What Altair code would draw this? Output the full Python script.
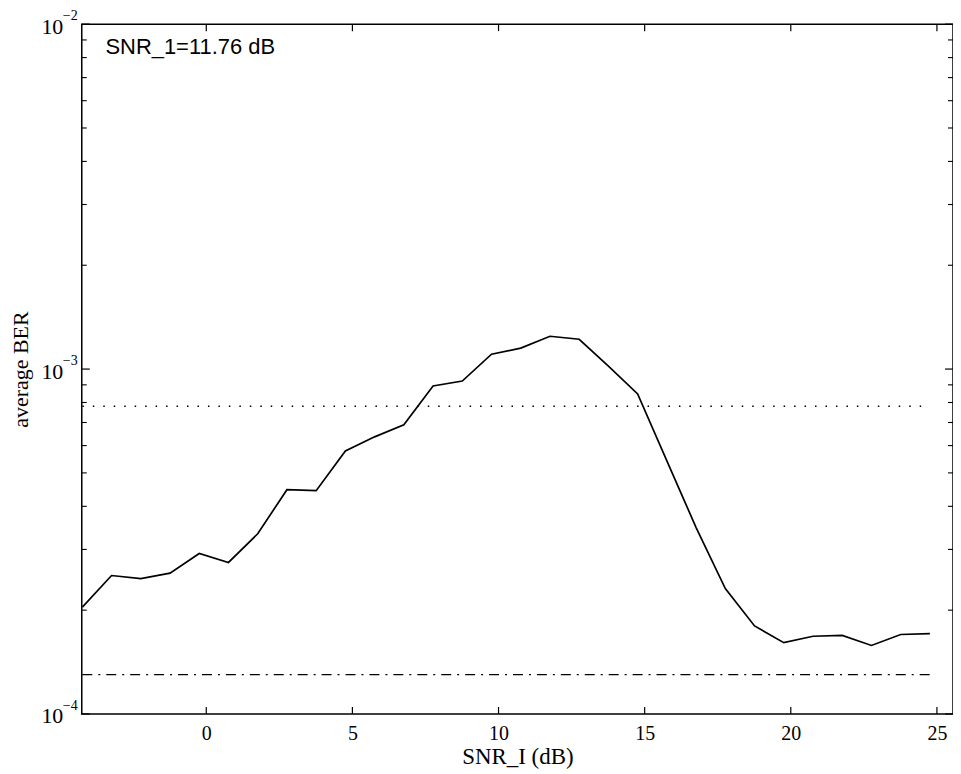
import altair as alt
import pandas as pd

# ---- data ----
snr_db = [-4.24, -3.24, -2.24, -1.24, -0.24, 0.76, 1.76, 2.76, 3.76, 4.76,
          5.76, 6.76, 7.76, 8.76, 9.76, 10.76, 11.76, 12.76, 13.76, 14.76,
          15.76, 16.76, 17.76, 18.76, 19.76, 20.76, 21.76, 22.76, 23.76, 24.76]
avg_ber = [2.04e-4, 2.52e-4, 2.47e-4, 2.56e-4, 2.92e-4, 2.75e-4, 3.33e-4, 4.47e-4,
           4.44e-4, 5.79e-4, 6.36e-4, 6.89e-4, 8.93e-4, 9.23e-4, 1.104e-3, 1.15e-3,
           1.245e-3, 1.22e-3, 1.02e-3, 8.47e-4, 5.42e-4, 3.47e-4, 2.31e-4, 1.80e-4,
           1.61e-4, 1.68e-4, 1.69e-4, 1.58e-4, 1.70e-4, 1.71e-4]
ref_x = [-4.24, 24.76]
dotted_ber = [7.8e-4, 7.8e-4]
dashdot_ber = [1.30e-4, 1.30e-4]

x_ticks = [0, 5, 10, 15, 20, 25]
y_major = [1e-4, 1e-3, 1e-2]
y_exponents = ["\u22124", "\u22123", "\u22122"]
y_minor = [2e-4, 3e-4, 4e-4, 5e-4, 6e-4, 7e-4, 8e-4, 9e-4,
           2e-3, 3e-3, 4e-3, 5e-3, 6e-3, 7e-3, 8e-3, 9e-3]
annotation = "SNR_1=11.76 dB"
annot_x = [-3.45]
annot_y = [8.6e-3]

W, H = 874, 692
XDOM = [-4.26, 25.55]
YDOM = [1e-4, 1e-2]
SERIF = "Liberation Serif"

main_df = pd.DataFrame({"snr": snr_db, "ber": avg_ber})
dot_df = pd.DataFrame({"snr": ref_x, "ber": dotted_ber})
dd_df = pd.DataFrame({"snr": ref_x, "ber": dashdot_ber})
xt_df = pd.DataFrame({"snr": x_ticks})
ymaj_df = pd.DataFrame({"ber": y_major, "exp": y_exponents})
ymin_df = pd.DataFrame({"ber": y_minor})
ann_df = pd.DataFrame({"snr": annot_x, "ber": annot_y, "t": [annotation]})

xscale = alt.Scale(domain=XDOM, nice=False, zero=False)
yscale = alt.Scale(type="log", domain=YDOM, nice=False)

x_enc = alt.X("snr:Q", scale=xscale,
              axis=alt.Axis(title="SNR_I (dB)", values=x_ticks, grid=False,
                            ticks=False, domain=False, labelPadding=10,
                            labelFontSize=20, titleFontSize=23,
                            titlePadding=2))
y_enc = alt.Y("ber:Q", scale=yscale,
              axis=alt.Axis(title="average BER", values=y_major, grid=False,
                            ticks=False, domain=False, labelExpr="'10'",
                            labelFontSize=22, titleFontSize=22,
                            labelPadding=19, labelOffset=2, titlePadding=8))

curve = alt.Chart(main_df).mark_line(color="black", strokeWidth=1.7).encode(
    x=x_enc, y=y_enc)

dotted = alt.Chart(dot_df).mark_line(color="black", strokeWidth=1.4,
                                     strokeDash=[1.5, 9]).encode(
    x=alt.X("snr:Q", scale=xscale), y=alt.Y("ber:Q", scale=yscale))

dashdot = alt.Chart(dd_df).mark_line(color="black", strokeWidth=1.4,
                                     strokeDash=[10, 6, 2, 6]).encode(
    x=alt.X("snr:Q", scale=xscale), y=alt.Y("ber:Q", scale=yscale))

# inward ticks (MATLAB style)
xt_bottom = alt.Chart(xt_df).mark_rule(color="black", strokeWidth=1.2).encode(
    x=alt.X("snr:Q", scale=xscale), y=alt.value(H), y2=alt.value(H - 7))
xt_top = alt.Chart(xt_df).mark_rule(color="black", strokeWidth=1.2).encode(
    x=alt.X("snr:Q", scale=xscale), y=alt.value(0), y2=alt.value(7))
ymaj_l = alt.Chart(ymaj_df).mark_rule(color="black", strokeWidth=1.2).encode(
    y=alt.Y("ber:Q", scale=yscale), x=alt.value(0), x2=alt.value(8))
ymaj_r = alt.Chart(ymaj_df).mark_rule(color="black", strokeWidth=1.2).encode(
    y=alt.Y("ber:Q", scale=yscale), x=alt.value(W), x2=alt.value(W - 8))
ymin_l = alt.Chart(ymin_df).mark_rule(color="black", strokeWidth=1.1).encode(
    y=alt.Y("ber:Q", scale=yscale), x=alt.value(0), x2=alt.value(5))
ymin_r = alt.Chart(ymin_df).mark_rule(color="black", strokeWidth=1.1).encode(
    y=alt.Y("ber:Q", scale=yscale), x=alt.value(W), x2=alt.value(W - 5))

exps = alt.Chart(ymaj_df).mark_text(font=SERIF, fontSize=14, align="left",
                                    baseline="middle", dy=-8, color="black").encode(
    y=alt.Y("ber:Q", scale=yscale), x=alt.value(-19), text="exp:N")

ann = alt.Chart(ann_df).mark_text(font="Liberation Sans", fontSize=22,
                                  align="left", baseline="middle",
                                  color="black").encode(
    x=alt.X("snr:Q", scale=xscale), y=alt.Y("ber:Q", scale=yscale), text="t:N")

chart = alt.layer(curve, dotted, dashdot, xt_bottom, xt_top, ymaj_l, ymaj_r,
                  ymin_l, ymin_r, exps, ann).properties(
    width=W, height=H,
    autosize=alt.AutoSizeParams(type="none"),
    padding={"left": 74, "top": 15, "right": 0, "bottom": 58},
    background="white",
).configure_view(
    stroke="black", strokeWidth=1.5
).configure_axis(
    labelFont=SERIF, titleFont=SERIF,
    titleFontWeight="normal", labelColor="black", titleColor="black"
)

chart.save("out.html", embed_options={"renderer": "svg", "actions": False})
